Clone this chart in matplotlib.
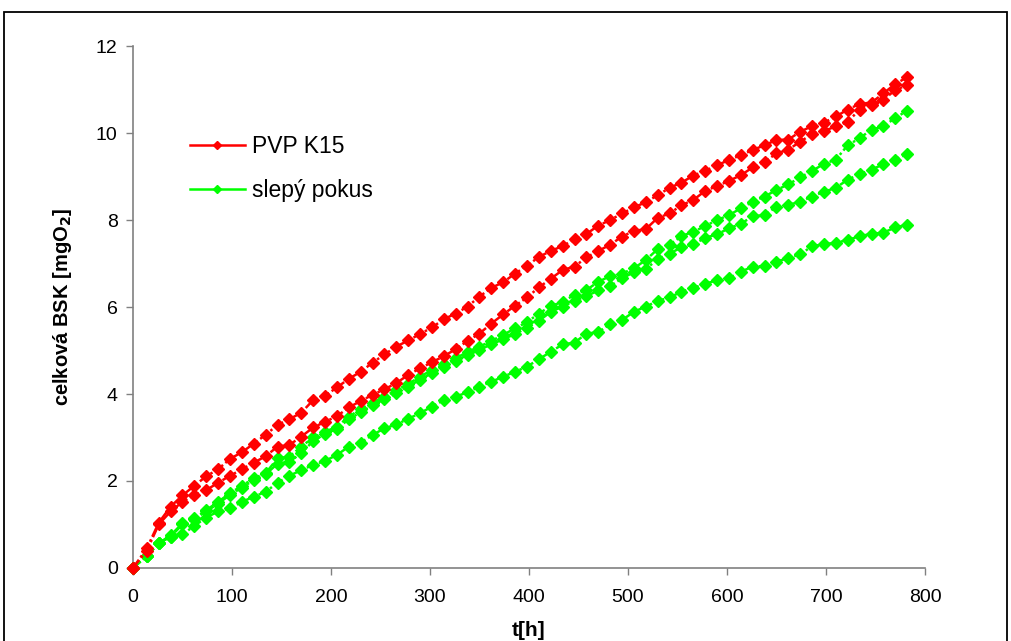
import numpy as np
import matplotlib
matplotlib.use("Agg")
import matplotlib.pyplot as plt
from matplotlib.lines import Line2D
from matplotlib.patches import Rectangle

plt.rcParams['font.family'] = ['Liberation Sans', 'DejaVu Sans']

# cas mereni [h]
t = [0, 14, 26, 38, 50, 62, 74, 86, 98, 110, 122, 134, 146, 158, 170, 182, 194,
     206, 218, 230, 242, 254, 266, 278, 290, 302, 314, 326, 338, 350, 362, 374,
     386, 398, 410, 422, 434, 446, 458, 470, 482, 494, 506, 518, 530, 542, 554,
     566, 578, 590, 602, 614, 626, 638, 650, 662, 674, 686, 698, 710, 722, 734,
     746, 758, 770, 782]

# PVP K15 - dve paralelni nadoby
pvp_1 = [0, 0.45, 1.04, 1.41, 1.67, 1.89, 2.11, 2.27, 2.51, 2.66, 2.86, 3.06,
         3.29, 3.42, 3.57, 3.86, 3.96, 4.15, 4.35, 4.51, 4.72, 4.91, 5.09, 5.23,
         5.38, 5.53, 5.72, 5.85, 6.01, 6.24, 6.44, 6.57, 6.77, 6.95, 7.15, 7.29,
         7.40, 7.56, 7.68, 7.87, 8.00, 8.15, 8.29, 8.41, 8.57, 8.74, 8.86, 9.02,
         9.13, 9.26, 9.38, 9.49, 9.61, 9.72, 9.84, 9.85, 10.03, 10.16, 10.24,
         10.38, 10.54, 10.67, 10.70, 10.91, 11.13, 11.28]
pvp_2 = [0, 0.40, 1.00, 1.30, 1.52, 1.68, 1.79, 1.96, 2.12, 2.27, 2.42, 2.57,
         2.79, 2.83, 3.02, 3.23, 3.36, 3.49, 3.69, 3.84, 3.98, 4.11, 4.25, 4.44,
         4.59, 4.73, 4.87, 5.03, 5.22, 5.39, 5.62, 5.83, 6.03, 6.22, 6.45, 6.65,
         6.85, 6.93, 7.14, 7.29, 7.43, 7.62, 7.75, 7.79, 8.05, 8.15, 8.34, 8.46,
         8.67, 8.78, 8.90, 9.03, 9.21, 9.34, 9.53, 9.62, 9.80, 9.98, 10.05,
         10.15, 10.26, 10.54, 10.64, 10.76, 10.99, 11.10]

# slepy pokus - tri nadoby
slepy_1 = [0, 0.28, 0.57, 0.75, 1.03, 1.14, 1.33, 1.52, 1.72, 1.89, 2.06, 2.18,
           2.52, 2.56, 2.79, 3.00, 3.13, 3.25, 3.48, 3.65, 3.80, 3.94, 4.09,
           4.23, 4.40, 4.55, 4.68, 4.82, 4.97, 5.09, 5.22, 5.36, 5.51, 5.65,
           5.85, 6.02, 6.12, 6.28, 6.39, 6.58, 6.71, 6.77, 6.89, 7.08, 7.33,
           7.43, 7.63, 7.73, 7.86, 8.00, 8.11, 8.27, 8.42, 8.54, 8.69, 8.82,
           8.98, 9.13, 9.29, 9.39, 9.72, 9.88, 10.08, 10.15, 10.35, 10.51]
slepy_2 = [0, 0.28, 0.57, 0.72, 1.00, 1.12, 1.30, 1.48, 1.68, 1.85, 2.02, 2.15,
           2.40, 2.44, 2.64, 2.92, 3.08, 3.20, 3.42, 3.58, 3.74, 3.88, 4.02,
           4.17, 4.33, 4.48, 4.62, 4.76, 4.90, 5.02, 5.14, 5.26, 5.38, 5.52,
           5.68, 5.89, 6.01, 6.14, 6.25, 6.38, 6.48, 6.66, 6.80, 6.87, 7.10,
           7.23, 7.37, 7.44, 7.59, 7.67, 7.81, 7.91, 8.09, 8.11, 8.31, 8.35,
           8.42, 8.54, 8.65, 8.74, 8.93, 9.05, 9.16, 9.28, 9.39, 9.52]
slepy_3 = [0, 0.28, 0.57, 0.72, 0.77, 0.97, 1.16, 1.30, 1.37, 1.52, 1.64, 1.75,
           1.96, 2.12, 2.25, 2.37, 2.46, 2.60, 2.79, 2.88, 3.06, 3.21, 3.30,
           3.43, 3.56, 3.71, 3.86, 3.94, 4.04, 4.17, 4.28, 4.40, 4.51, 4.63,
           4.80, 4.97, 5.14, 5.18, 5.39, 5.42, 5.61, 5.70, 5.89, 6.01, 6.14,
           6.22, 6.35, 6.44, 6.53, 6.62, 6.66, 6.81, 6.93, 6.94, 7.04, 7.13,
           7.21, 7.40, 7.44, 7.48, 7.54, 7.63, 7.68, 7.71, 7.83, 7.89]

cervena = '#ff0000'
zelena = '#00ff00'
carka = (0, (4, 1.2, 1, 1.2))

fig = plt.figure(figsize=(10.12, 6.41), dpi=100)
ax = fig.add_axes([0.1314, 0.1139, 0.7826, 0.8143])

for y in (slepy_3, slepy_2, slepy_1):
    ax.plot(t, y, color=zelena, ls=carka, lw=1.8, marker='D', ms=5.8,
            mec=zelena, mfc=zelena, clip_on=False, zorder=3)
for y in (pvp_2, pvp_1):
    ax.plot(t, y, color=cervena, ls=carka, lw=1.8, marker='D', ms=5.8,
            mec=cervena, mfc=cervena, clip_on=False, zorder=4)

ax.set_xlim(0, 800)
ax.set_ylim(0, 12)
ax.set_xticks(range(0, 801, 100))
ax.set_yticks(range(0, 13, 2))
ax.tick_params(labelsize=14, length=5, width=1, color='#808080')
ax.tick_params(axis='x', pad=10)
ax.tick_params(axis='y', pad=6)
for s in ('top', 'right'):
    ax.spines[s].set_visible(False)
for s in ('left', 'bottom'):
    ax.spines[s].set_color('#808080')
    ax.spines[s].set_linewidth(1.2)

ax.set_xlabel('t[h]', fontsize=15, fontweight='bold', labelpad=11)
ax.set_ylabel('celková BSK [mgO$_\\mathbf{2}$]', fontsize=14.5,
              fontweight='bold', labelpad=16)

h = [Line2D([], [], color=cervena, lw=1.8, marker='D', ms=4.5),
     Line2D([], [], color=zelena, lw=1.8, marker='D', ms=4.5)]
ax.legend(h, ['PVP K15', 'slepý pokus'], loc='upper left',
          bbox_to_anchor=(190 / 1012, 1 - 135 / 641),
          bbox_transform=fig.transFigure, borderpad=0, borderaxespad=0,
          frameon=False, fontsize=16.5, handlelength=2.4, labelspacing=0.9,
          handletextpad=0.3)

# ramecek kolem celeho grafu
fig.patches.append(Rectangle((4 / 1012, -0.05), 1003 / 1012, 1 - 12 / 641 + 0.05,
                             transform=fig.transFigure, fill=False,
                             edgecolor='black', lw=1.3))

fig.savefig('out.png', dpi=100)
